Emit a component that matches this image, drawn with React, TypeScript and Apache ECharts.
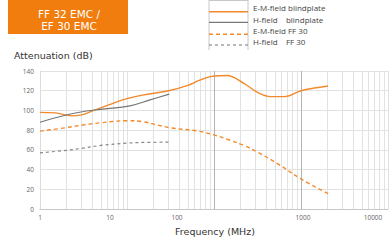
import React, { useEffect, useRef } from "react";
import * as echarts from "echarts";

const xTicks = [1, 10, 100, 1000, 10000];
const yTicks = [0, 20, 40, 60, 80, 100, 120, 140];
const gridMinor = [2, 3, 4, 5, 6, 7, 8, 9, 10, 20, 30, 40, 50, 60, 70, 80, 90, 200, 300, 400, 500, 600, 700, 800, 900, 2000, 3000, 4000, 5000, 6000, 7000, 8000, 9000, 10000];
const gridMajor = [100, 1000];

const emBlindplate: [number, number][] = [
  [1, 98], [1.5, 97.5], [2.3, 94.5], [3, 95.5], [4, 99.5], [5, 102.5], [7, 107.5], [10, 112],
  [15, 115.5], [30, 120], [50, 125.5], [70, 131], [100, 135], [140, 135.5], [220, 127.5],
  [320, 118], [450, 114], [650, 114], [1000, 120], [1500, 123], [2050, 124.8],
];
const hBlindplate: [number, number][] = [
  [1, 88], [2, 95.4], [3.4, 99.4], [5.3, 101.4], [10.8, 104.7], [18.4, 110.7], [30.6, 116.5],
];
const emFF30: [number, number][] = [
  [1, 79], [2, 82.5], [3, 85], [5, 87.5], [10, 89.6], [15, 88.6], [31, 82.5], [63, 79.2],
  [100, 75.2], [150, 70], [220, 64.5], [320, 57.5], [560, 45], [1000, 30.5], [2050, 15.6],
];
const hFF30: [number, number][] = [
  [1, 57], [2, 59.5], [3, 61.5], [5, 64.5], [10, 66.8], [15, 67.5], [30.6, 67.8],
];

const legendNames = ["E-M-field blindplate", "H-field    blindplate", "E-M-field FF 30", "H-field    FF 30"];
const titleLines = ["FF 32 EMC /", "EF 30 EMC"];

const ORANGE = "#f28a2c";
const GRAY = "#777777";
const FONT = "Open Sans";
const TFONT = "DejaVu Sans";

export default function App() {
  const ref = useRef<HTMLDivElement>(null);
  useEffect(() => {
    const chart = echarts.init(ref.current!, null, { renderer: "svg" });
    const richKey: Record<number, string> = { 1: "a", 10: "b", 100: "c", 1000: "d", 10000: "e" };
    const lblBase = { fontSize: 6.5, color: "#666", fontFamily: FONT };
    const legendStyles = [
      { color: ORANGE, dash: null as any, w: 1.5 },
      { color: GRAY, dash: null as any, w: 1.2 },
      { color: ORANGE, dash: [4, 3], w: 1.5 },
      { color: GRAY, dash: [3, 3], w: 1.2 },
    ];
    const legendY = [11.7, 22.3, 34.3, 45];
    const legendTextY = [7.5, 19, 30, 41];
    const graphic: any[] = [
      { type: "rect", shape: { x: 8, y: 0, width: 120, height: 34 }, style: { fill: "#f07d0e" } },
      ...titleLines.map((t, i) => ({
        type: "text", x: 69, y: 13.5 + i * 12.8,
        style: { text: t, fill: "#fff", fontSize: 10.5, fontFamily: TFONT, align: "center", verticalAlign: "middle" },
      })),
      { type: "line", shape: { x1: 209, y1: 0, x2: 209, y2: 50 }, style: { stroke: "#c8c8c8", lineWidth: 1 } },
      { type: "line", shape: { x1: 248, y1: 0, x2: 248, y2: 50 }, style: { stroke: "#c8c8c8", lineWidth: 1 } },
      { type: "line", shape: { x1: 209, y1: 0.5, x2: 248, y2: 0.5 }, style: { stroke: "#c8c8c8", lineWidth: 1 } },
      ...legendStyles.map((s, i) => ({
        type: "line", shape: { x1: 209, y1: legendY[i], x2: 248, y2: legendY[i] },
        style: { stroke: s.color, lineWidth: s.w, lineDash: s.dash },
      })),
      ...legendNames.map((t, i) => ({
        type: "text", x: 253, y: legendTextY[i],
        style: { text: t, fill: "#444", fontSize: 8, fontFamily: FONT, verticalAlign: "middle" },
      })),
      {
        type: "text", x: 14, y: 55,
        style: { text: "Attenuation (dB)", fill: "#333", fontSize: 9.5, fontFamily: TFONT, verticalAlign: "middle" },
      },
      {
        type: "text", x: 215, y: 231.5,
        style: { text: "Frequency (MHz)", fill: "#333", fontSize: 9.5, fontFamily: TFONT, align: "center", verticalAlign: "middle" },
      },
    ];
    const lineSeries = (name: string, data: [number, number][], color: string, width: number, dash: any) => ({
      name, type: "line", data, smooth: 0.4, showSymbol: false, z: 3,
      lineStyle: { color, width, type: dash },
      itemStyle: { color },
    });
    chart.setOption({
      animation: false,
      grid: { left: 40, right: 1, top: 71, bottom: 35 },
      xAxis: {
        type: "log", logBase: 10, min: xTicks[0], max: xTicks[xTicks.length - 1],
        axisLine: { show: true, lineStyle: { color: "#c8c8c8" } },
        axisTick: { show: false },
        splitLine: { show: false },
        axisLabel: {
          margin: 5,
          formatter: (v: number) => `{${richKey[v] || "a"}|${v}}`,
          rich: {
            a: { ...lblBase },
            b: { ...lblBase, padding: [0, 34, 0, 0] },
            c: { ...lblBase, padding: [0, 74, 0, 0] },
            d: { ...lblBase, padding: [0, 0, 0, 4] },
            e: { ...lblBase, padding: [0, 30, 0, 0] },
          },
        },
      },
      yAxis: {
        type: "value", min: yTicks[0], max: yTicks[yTicks.length - 1], interval: 20,
        axisLine: { show: true, lineStyle: { color: "#dcdcdc" } },
        axisTick: { show: false },
        splitLine: { show: true, lineStyle: { color: "#e2e2e2" } },
        axisLabel: { margin: 6, fontSize: 6.5, color: "#666", fontFamily: FONT },
      },
      graphic,
      series: [
        {
          type: "line", data: [], silent: true,
          markLine: {
            silent: true, symbol: "none", z: 1, label: { show: false },
            lineStyle: { color: "#e2e2e2", width: 1, type: "solid" },
            data: [
              ...gridMinor.map((v) => ({ xAxis: v })),
              ...gridMajor.map((v) => ({ xAxis: v, lineStyle: { color: "#b4b4b4", width: 1, type: "solid" } })),
            ],
          },
        },
        lineSeries("E-M-field blindplate", emBlindplate, ORANGE, 1.4, "solid"),
        lineSeries("H-field blindplate", hBlindplate, GRAY, 1.2, "solid"),
        lineSeries("E-M-field FF 30", emFF30, ORANGE, 1.4, [4, 3]),
        lineSeries("H-field FF 30", hFF30, "#888", 1.2, [3, 3]),
      ],
    });
    return () => chart.dispose();
  }, []);
  return <div ref={ref} style={{ width: 389, height: 244, position: "absolute", left: 0, top: 0 }} />;
}
